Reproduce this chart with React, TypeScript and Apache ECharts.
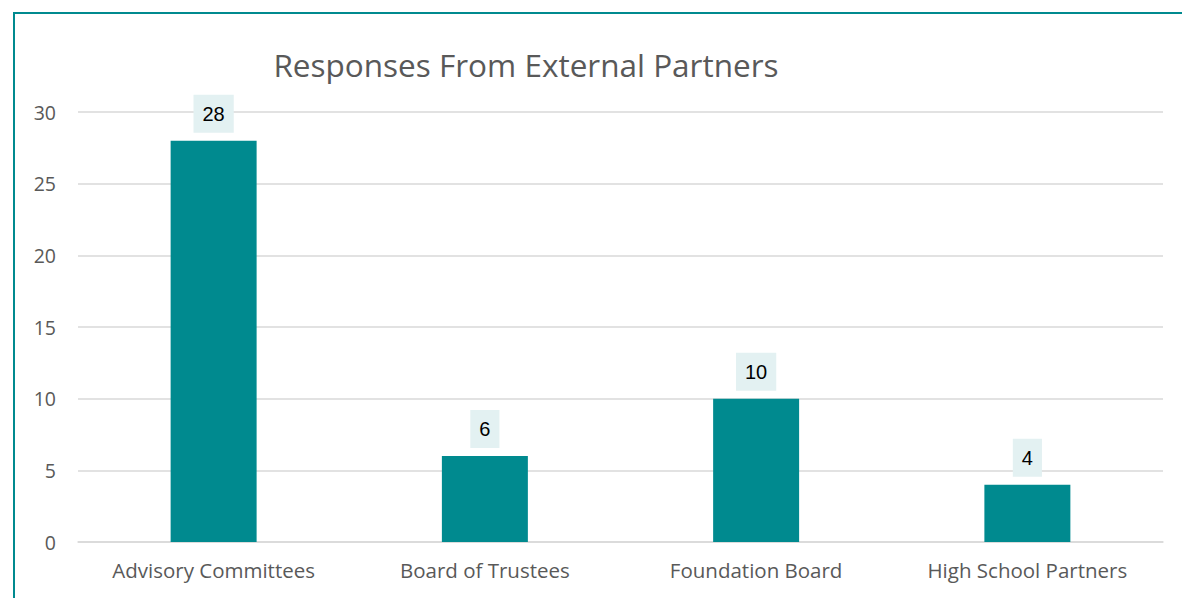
import React, { useEffect, useRef } from "react";
import * as echarts from "echarts";

const categories = ["Advisory Committees", "Board of Trustees", "Foundation Board", "High School Partners"];
const responses = [28, 6, 10, 4];
const titleText = "Responses From External Partners";

export default function App() {
  const ref = useRef<HTMLDivElement>(null);
  useEffect(() => {
    if (!ref.current) return;
    const chart = echarts.init(ref.current, null, { renderer: "svg" });
    chart.setOption({
      animation: false,
      backgroundColor: "#ffffff",
      title: {
        text: titleText,
        left: 521,
        textAlign: "center",
        top: 43,
        textStyle: { fontFamily: "Open Sans", fontSize: 31.5, fontWeight: "normal", color: "#595959" },
      },
      graphic: [
        {
          type: "rect",
          shape: { x: 14, y: 13, width: 1300, height: 700 },
          style: { fill: "none", stroke: "#008a8f", lineWidth: 2 },
          silent: true,
        },
      ],
      grid: { left: 78, right: 19, top: 112, bottom: 56 },
      xAxis: {
        type: "category",
        data: categories,
        axisLine: { lineStyle: { color: "#d9d9d9", width: 1.5 } },
        axisTick: { show: false },
        axisLabel: { fontFamily: "Open Sans", fontSize: 20.5, color: "#595959", margin: 17 },
      },
      yAxis: {
        type: "value",
        min: 0,
        max: 30,
        interval: 5,
        axisLine: { show: false },
        axisTick: { show: false },
        splitLine: { lineStyle: { color: "#d9d9d9", width: 1.5 } },
        axisLabel: { fontFamily: "Open Sans", fontSize: 19.5, color: "#595959", margin: 22 },
      },
      series: [
        {
          type: "bar",
          data: responses,
          barWidth: "31.7%",
          itemStyle: { color: "#008a8f" },
          label: {
            show: true,
            position: "top",
            distance: 8,
            fontFamily: "Liberation Sans",
            fontSize: 20,
            lineHeight: 20,
            color: "#000000",
            backgroundColor: "#e3f1f2",
            padding: [9, 9, 9, 9],
          },
        },
      ],
    });
    return () => chart.dispose();
  }, []);
  return <div ref={ref} style={{ position: "fixed", left: 0, top: 0, width: 1182, height: 598 }} />;
}
